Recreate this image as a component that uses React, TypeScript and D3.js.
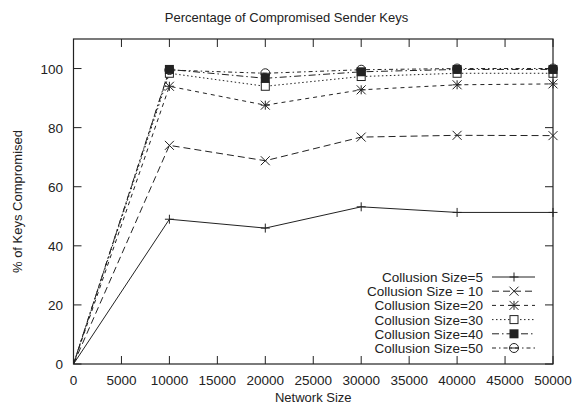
import React from 'react'
import * as d3 from 'd3'

const networkSizes = [0, 10000, 20000, 30000, 40000, 50000]
const seriesNames = [
  'Collusion Size=5',
  'Collusion Size = 10',
  'Collusion Size=20',
  'Collusion Size=30',
  'Collusion Size=40',
  'Collusion Size=50',
]
const size5 = [0, 49, 46, 53.2, 51.3, 51.3]
const size10 = [0, 74, 68.8, 76.8, 77.4, 77.3]
const size20 = [0, 94, 87.6, 92.8, 94.5, 94.8]
const size30 = [0, 98.4, 94, 97.3, 98.4, 98.4]
const size40 = [0, 99.7, 96.7, 98.9, 99.7, 99.7]
const size50 = [0, 99.5, 98.4, 99.6, 100, 100]
const xTicks = d3.range(0, 50001, 5000)
const yTicks = [0, 20, 40, 60, 80, 100]

const allSeries = [size5, size10, size20, size30, size40, size50]
const dashes = ['none', '7,4', '4,4', '1.5,2.5', '7,3,1.5,3', '4,3,1.5,3']
const markers = ['plus', 'cross', 'star', 'box', 'fbox', 'circle']

const font = '"Liberation Sans", Arial, sans-serif'
const ink = '#222'

function Marker({ kind, x, y }: { kind: string; x: number; y: number }) {
  const s = 4.5
  const st = { stroke: ink, strokeWidth: 1, fill: 'none' }
  if (kind === 'plus')
    return <path d={`M${x - s},${y}H${x + s}M${x},${y - s}V${y + s}`} {...st} />
  if (kind === 'cross')
    return <path d={`M${x - s},${y - s}L${x + s},${y + s}M${x - s},${y + s}L${x + s},${y - s}`} {...st} />
  if (kind === 'star')
    return (
      <path
        d={`M${x - s},${y}H${x + s}M${x},${y - s}V${y + s}M${x - s},${y - s}L${x + s},${y + s}M${x - s},${y + s}L${x + s},${y - s}`}
        {...st}
      />
    )
  if (kind === 'box') return <rect x={x - 4} y={y - 4} width={8} height={8} {...st} fill="white" />
  if (kind === 'fbox') return <rect x={x - 4.5} y={y - 4.5} width={9} height={9} fill={ink} />
  return (
    <g>
      <circle cx={x} cy={y} r={4.5} {...st} />
      <line x1={x - 4.5} x2={x + 4.5} y1={y} y2={y} stroke={ink} />
    </g>
  )
}

export default function App() {
  const W = 573
  const H = 405
  const left = 73.5
  const right = 553
  const top = 39
  const bottom = 364

  const x = d3.scaleLinear().domain([0, 50000]).range([left, right])
  const y = d3.scaleLinear().domain([0, 110]).range([bottom, top])
  const line = d3
    .line<number>()
    .x((_, i) => x(networkSizes[i]))
    .y((d) => y(d))

  const tl = 8
  const legX = 483
  const legY0 = 277
  const legDy = 14.2

  return (
    <svg width={W} height={H} style={{ position: 'absolute', left: 0, top: 0, background: 'white' }} fontFamily={font}>
      <text x={W / 2} y={22} textAnchor="middle" fontSize={13} fill={ink}>
        Percentage of Compromised Sender Keys
      </text>

      {/* ticks */}
      {xTicks.map((t) => (
        <g key={'x' + t}>
          <line x1={x(t)} x2={x(t)} y1={bottom} y2={bottom - tl} stroke={ink} />
          <line x1={x(t)} x2={x(t)} y1={top} y2={top + tl} stroke={ink} />
          <text x={x(t)} y={385} textAnchor="middle" fontSize={13.5} fill={ink}>
            {t}
          </text>
        </g>
      ))}
      {yTicks.map((t) => (
        <g key={'y' + t}>
          <line x1={left} x2={left + tl} y1={y(t)} y2={y(t)} stroke={ink} />
          <line x1={right} x2={right - tl} y1={y(t)} y2={y(t)} stroke={ink} />
          <text x={63} y={y(t) + 5} textAnchor="end" fontSize={13.5} fill={ink}>
            {t}
          </text>
        </g>
      ))}

      {/* lines */}
      {allSeries.map((s, i) => (
        <path key={'l' + i} d={line(s) ?? ''} fill="none" stroke={ink} strokeWidth={1} strokeDasharray={dashes[i]} />
      ))}
      {allSeries.map((s, i) =>
        s.map((v, j) =>
          j === 0 ? null : <Marker key={`m${i}-${j}`} kind={markers[i]} x={x(networkSizes[j])} y={y(v)} />
        )
      )}

      <rect x={left} y={top} width={right - left} height={bottom - top} fill="none" stroke={ink} strokeWidth={1.2} />

      {/* legend */}
      {seriesNames.map((n, i) => {
        const ly = legY0 + i * legDy
        return (
          <g key={'lg' + i}>
            <text x={legX} y={ly + 5} textAnchor="end" fontSize={13.5} fill={ink}>
              {n}
            </text>
            <line x1={492} x2={535} y1={ly} y2={ly} stroke={ink} strokeDasharray={dashes[i]} />
            <Marker kind={markers[i]} x={514} y={ly} />
          </g>
        )
      })}

      <text x={(left + right) / 2} y={402} textAnchor="middle" fontSize={13} fill={ink}>
        Network Size
      </text>
      <text
        transform={`translate(22,${(top + bottom) / 2}) rotate(-90)`}
        textAnchor="middle"
        fontSize={13}
        fill={ink}
      >
        % of Keys Compromised
      </text>
    </svg>
  )
}
